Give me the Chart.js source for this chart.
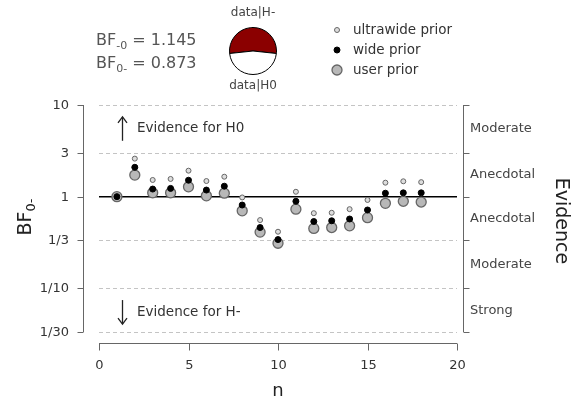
<!DOCTYPE html>
<html>
<head>
<meta charset="utf-8">
<script src="https://cdn.jsdelivr.net/npm/chart.js"></script>
<style>
  body { margin: 0; background: #fff; }
  #wrap { position: relative; width: 575px; height: 401px; }
  #pieBox { position: absolute; left: 228px; top: 26px; width: 50px; height: 50px; }
</style>
</head>
<body>
<div id="wrap">
  <canvas id="main" width="575" height="401"></canvas>
  <div id="pieBox"><canvas id="pie" width="50" height="50"></canvas></div>
</div>
<script>
// valeurs
const nVals = [1, 2, 3, 4, 5, 6, 7, 8, 9, 10, 11, 12, 13, 14, 15, 16, 17, 18];
const ultrawideBF = [1, 2.60, 1.52, 1.56, 1.92, 1.48, 1.65, 0.98, 0.555, 0.414, 1.13, 0.66, 0.667, 0.73, 0.92, 1.42, 1.47, 1.44];
const wideBF = [1, 2.09, 1.21, 1.23, 1.51, 1.18, 1.30, 0.81, 0.46, 0.34, 0.89, 0.535, 0.545, 0.57, 0.715, 1.09, 1.10, 1.10];
const userBF = [1, 1.72, 1.10, 1.10, 1.28, 1.02, 1.09, 0.70, 0.41, 0.31, 0.73, 0.45, 0.46, 0.48, 0.59, 0.845, 0.89, 0.873];

const bfMinus0 = 1.145;
const bf0Minus = 0.873;

const yTicks = [10, 3, 1, 1 / 3, 1 / 10, 1 / 30];
const yTickLabels = ["10", "3", "1", "1/3", "1/10", "1/30"];
const xTicks = [0, 5, 10, 15, 20];
const evidenceLabels = ["Moderate", "Anecdotal", "Anecdotal", "Moderate", "Strong"];
const legendLabels = ["ultrawide prior", "wide prior", "user prior"];

const FONT = "'DejaVu Sans', sans-serif";

function toPoints(ys) {
  return nVals.map((n, i) => ({ x: n, y: ys[i] }));
}

// texte avec indice
function subText(ctx, x, y, main, sub, rest, size, subSize) {
  ctx.font = size + "px " + FONT;
  ctx.fillText(main, x, y);
  let w = ctx.measureText(main).width;
  ctx.font = subSize + "px " + FONT;
  ctx.fillText(sub, x + w, y + 4);
  w += ctx.measureText(sub).width;
  ctx.font = size + "px " + FONT;
  ctx.fillText(rest, x + w, y);
}

function marker(ctx, x, y, r, fill, stroke, lw) {
  ctx.beginPath();
  ctx.arc(x, y, r, 0, Math.PI * 2);
  ctx.fillStyle = fill;
  ctx.fill();
  ctx.lineWidth = lw;
  ctx.strokeStyle = stroke;
  ctx.stroke();
}

const styles = [
  { r: 2.5, fill: "#dddddd", stroke: "#666", lw: 1 },
  { r: 3, fill: "#000", stroke: "#000", lw: 1 },
  { r: 5, fill: "#b8b8b8", stroke: "#666", lw: 1.3 },
];

const decorPlugin = {
  id: "decor",
  beforeDatasetsDraw(chart) {
    const ctx = chart.ctx;
    const xs = chart.scales.x, ys = chart.scales.y;
    const x0 = xs.getPixelForValue(0), x1 = xs.getPixelForValue(20);
    ctx.save();
    // lignes pointillées
    ctx.strokeStyle = "#c4c4c4";
    ctx.lineWidth = 1;
    ctx.setLineDash([4, 3]);
    yTicks.forEach((v) => {
      if (v === 1) return;
      const y = Math.round(ys.getPixelForValue(v)) + 0.5;
      ctx.beginPath();
      ctx.moveTo(x0, y);
      ctx.lineTo(x1, y);
      ctx.stroke();
    });
    ctx.setLineDash([]);
    // ligne BF = 1
    ctx.strokeStyle = "#000";
    ctx.lineWidth = 1.5;
    const y1 = ys.getPixelForValue(1);
    ctx.beginPath();
    ctx.moveTo(x0, y1);
    ctx.lineTo(x1, y1);
    ctx.stroke();
    ctx.restore();
  },
  afterDraw(chart) {
    const ctx = chart.ctx;
    const xs = chart.scales.x, ys = chart.scales.y;
    const area = chart.chartArea;
    ctx.save();
    ctx.strokeStyle = "#666";
    ctx.lineWidth = 1;

    // axe gauche
    const lx = 83.5;
    ctx.beginPath();
    ctx.moveTo(lx, ys.getPixelForValue(10));
    ctx.lineTo(lx, ys.getPixelForValue(1 / 30));
    ctx.stroke();
    ctx.fillStyle = "#333";
    ctx.font = "13px " + FONT;
    ctx.textAlign = "right";
    ctx.textBaseline = "middle";
    yTicks.forEach((v, i) => {
      const y = Math.round(ys.getPixelForValue(v)) + 0.5;
      ctx.beginPath();
      ctx.moveTo(lx - 6, y);
      ctx.lineTo(lx, y);
      ctx.stroke();
      ctx.fillText(yTickLabels[i], 69, y);
    });

    // axe droit
    const rx = 463.5;
    ctx.beginPath();
    ctx.moveTo(rx, ys.getPixelForValue(10));
    ctx.lineTo(rx, ys.getPixelForValue(1 / 30));
    ctx.stroke();
    yTicks.forEach((v) => {
      const y = Math.round(ys.getPixelForValue(v)) + 0.5;
      ctx.beginPath();
      ctx.moveTo(rx, y);
      ctx.lineTo(rx + 6, y);
      ctx.stroke();
    });
    ctx.textAlign = "left";
    ctx.fillStyle = "#444";
    evidenceLabels.forEach((lab, i) => {
      const mid = Math.sqrt(yTicks[i] * yTicks[i + 1]);
      ctx.fillText(lab, 470, ys.getPixelForValue(mid));
    });

    // axe x
    const by = 343.5;
    ctx.beginPath();
    ctx.moveTo(xs.getPixelForValue(0), by);
    ctx.lineTo(xs.getPixelForValue(20), by);
    ctx.stroke();
    ctx.textAlign = "center";
    ctx.fillStyle = "#333";
    xTicks.forEach((v) => {
      const x = Math.round(xs.getPixelForValue(v)) + 0.5;
      ctx.beginPath();
      ctx.moveTo(x, by);
      ctx.lineTo(x, by + 7);
      ctx.stroke();
      ctx.fillText(String(v), x, 366);
    });

    // titres des axes
    ctx.fillStyle = "#222";
    ctx.font = "18px " + FONT;
    ctx.textBaseline = "alphabetic";
    ctx.fillText("n", (area.left + area.right) / 2, 396);

    ctx.save();
    ctx.translate(561, 221);
    ctx.rotate(Math.PI / 2);
    ctx.textBaseline = "middle";
    ctx.font = "19px " + FONT;
    ctx.fillText("Evidence", 0, 0);
    ctx.restore();

    ctx.save();
    ctx.translate(31, 217);
    ctx.rotate(-Math.PI / 2);
    ctx.textAlign = "left";
    ctx.font = "19px " + FONT;
    const wMain = ctx.measureText("BF").width;
    ctx.font = "13px " + FONT;
    const wSub = ctx.measureText("0-").width;
    subText(ctx, -(wMain + wSub) / 2, 0, "BF", "0-", "", 19, 13);
    ctx.restore();

    // flèches
    ctx.strokeStyle = "#222";
    ctx.fillStyle = "#222";
    ctx.lineWidth = 1.3;
    const yUp = ys.getPixelForValue(5.5), yDn = ys.getPixelForValue(0.055);
    [[yUp, -1], [yDn, 1]].forEach(([yc, d]) => {
      const ax = 122.5;
      ctx.beginPath();
      ctx.moveTo(ax, yc - 12 * d);
      ctx.lineTo(ax, yc + 12 * d);
      ctx.stroke();
      ctx.beginPath();
      ctx.moveTo(ax - 4.5, yc + 6 * d);
      ctx.lineTo(ax, yc + 12 * d);
      ctx.lineTo(ax + 4.5, yc + 6 * d);
      ctx.stroke();
    });
    ctx.fillStyle = "#333";
    ctx.font = "13.5px " + FONT;
    ctx.textAlign = "left";
    ctx.textBaseline = "middle";
    ctx.fillText("Evidence for H0", 137, yUp);
    ctx.fillText("Evidence for H-", 137, yDn);

    // légende
    legendLabels.forEach((lab, i) => {
      const yy = 30 + i * 20;
      const s = styles[i];
      marker(ctx, 337, yy, s.r, s.fill, s.stroke, s.lw);
      ctx.fillStyle = "#333";
      ctx.fillText(lab, 353, yy);
    });

    // facteurs de Bayes
    ctx.fillStyle = "#555";
    ctx.textBaseline = "alphabetic";
    subText(ctx, 96, 45, "BF", "-0", " = " + bfMinus0.toFixed(3), 16, 11);
    subText(ctx, 96, 68, "BF", "0-", " = " + bf0Minus.toFixed(3), 16, 11);

    ctx.fillStyle = "#444";
    ctx.font = "12px " + FONT;
    ctx.textAlign = "center";
    ctx.textBaseline = "middle";
    ctx.fillText("data|H-", 253, 13);
    ctx.fillText("data|H0", 253, 86);
    ctx.restore();
  },
};

function ds(label, ys, s, order) {
  return {
    label: label,
    data: toPoints(ys),
    pointRadius: s.r,
    pointHoverRadius: s.r,
    backgroundColor: s.fill,
    borderColor: s.stroke,
    borderWidth: s.lw,
    showLine: false,
    order: order,
  };
}

new Chart(document.getElementById("main").getContext("2d"), {
  type: "scatter",
  data: {
    datasets: [
      ds(legendLabels[0], ultrawideBF, styles[0], 3),
      ds(legendLabels[1], wideBF, styles[1], 1),
      ds(legendLabels[2], userBF, styles[2], 2),
    ],
  },
  options: {
    responsive: false,
    animation: false,
    layout: { padding: { left: 99, right: 118, top: 105, bottom: 69 } },
    plugins: { legend: { display: false }, tooltip: { enabled: false } },
    scales: {
      x: { type: "linear", min: 0, max: 20, display: false },
      y: { type: "logarithmic", min: 1 / 30, max: 10, display: false },
    },
  },
  plugins: [decorPlugin],
});

// camembert data|H- / data|H0
new Chart(document.getElementById("pie").getContext("2d"), {
  type: "pie",
  data: {
    labels: ["data|H-", "data|H0"],
    datasets: [
      {
        data: [bfMinus0, 1],
        backgroundColor: ["#8b0000", "#ffffff"],
        borderColor: "#000",
        borderWidth: 1,
      },
    ],
  },
  options: {
    responsive: false,
    animation: false,
    rotation: (-180 * bfMinus0) / (bfMinus0 + 1),
    layout: { padding: 1 },
    plugins: { legend: { display: false }, tooltip: { enabled: false } },
  },
});
</script>
</body>
</html>
